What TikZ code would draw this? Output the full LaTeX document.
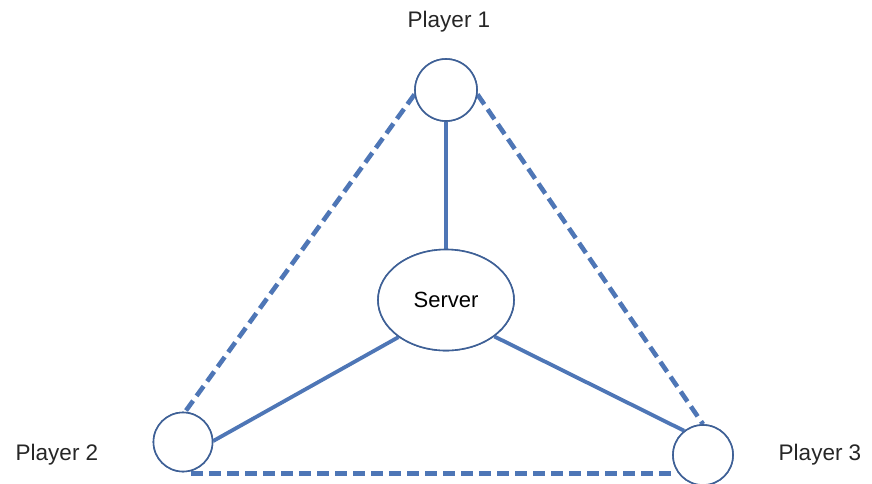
\documentclass[tikz,border=0pt]{standalone}
\usepackage{fontspec}
\setmainfont{Liberation Sans}
\usetikzlibrary{shapes.geometric}
\definecolor{linkblue}{RGB}{78,118,182}
\definecolor{rimblue}{RGB}{62,96,150}
\begin{document}
\begin{tikzpicture}[x=1pt,y=-1pt,
  peer/.style={circle,draw=rimblue,line width=1.6pt,fill=white,inner sep=0pt},
  hub/.style={ellipse,draw=rimblue,line width=1.6pt,fill=white,inner sep=0pt,minimum width=136pt,minimum height=101pt,font=\fontsize{22}{26}\selectfont},
  solidlink/.style={draw=linkblue,line width=3.8pt},
  dashlink/.style={draw=linkblue,line width=4.6pt,dash pattern=on 12pt off 6pt},
  lbl/.style={font=\fontsize{22.5}{26}\selectfont,text=black!85}]
\useasboundingbox (0,0) rectangle (872,483);
\node[peer,minimum size=62pt] (p1) at (446,90) {};
\node[hub] (srv) at (446,300) {Server};
\node[peer,minimum size=59pt] (p2) at (183,442) {};
\node[peer,minimum size=60pt] (p3) at (703,455) {};
\path[solidlink] (p1.south) -- (srv.north);
\path[solidlink] (srv.218) -- (p2.2);
\path[solidlink] (srv.323) -- (p3.128);
\path[dashlink] (p1.188) -- (p2.86);
\path[dashlink] (p1.352) -- (p3.90);
\coordinate (bend) at ([yshift=-1pt]p2.south -| p3.west);
\path[dashlink] ([xshift=8pt,yshift=-1pt]p2.south) -- (bend);
% redraw shapes on top
\node[peer,minimum size=62pt] at (p1) {};
\node[hub] at (srv) {Server};
\node[peer,minimum size=59pt] at (p2) {};
\node[peer,minimum size=60pt] at (p3) {};
\node[lbl] (t1) at (449,22) {Player 1};
\node[lbl] (t2) at (57,455) {Player 2};
\node[lbl] (t3) at (820,455) {Player 3};
\end{tikzpicture}
\end{document}
